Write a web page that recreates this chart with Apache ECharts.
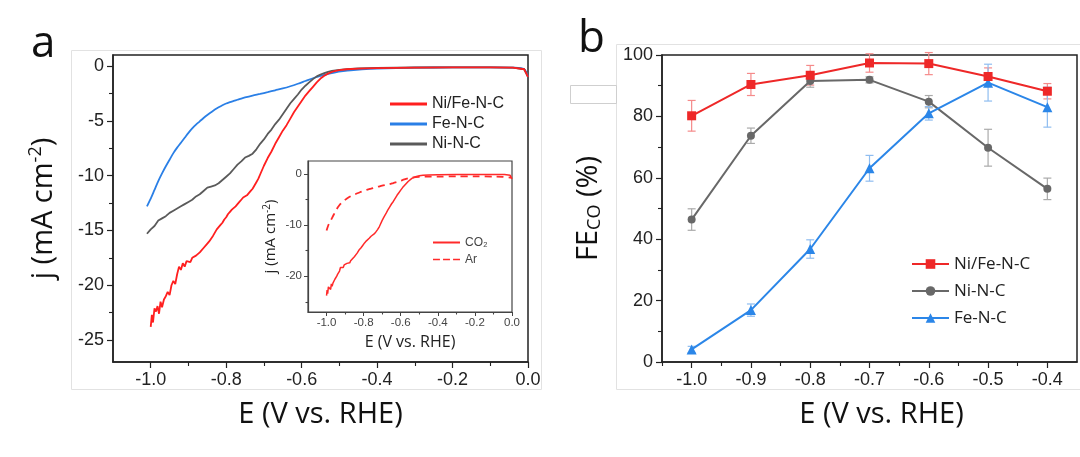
<!DOCTYPE html>
<html><head><meta charset="utf-8">
<script src="https://cdn.jsdelivr.net/npm/echarts@6/dist/echarts.min.js"></script>
<style>html,body{margin:0;padding:0;background:#fff}#c{width:1080px;height:457px}</style>
</head><body><div id="c"></div>
<script>
// ---------- Panel a: LSV curves [E (V vs RHE), j (mA cm-2)] ----------
const lsvNiFe = [
[-1.000,-23.8],[-0.997,-22.7],[-0.994,-23.4],[-0.990,-22.1],[-0.986,-22.4],[-0.982,-21.9],[-0.978,-22.6],
[-0.974,-21.5],[-0.970,-22.0],[-0.965,-21.3],[-0.960,-21.0],[-0.955,-20.6],[-0.950,-20.9],[-0.945,-20.0],
[-0.940,-19.6],[-0.935,-19.9],[-0.930,-19.0],[-0.925,-18.3],[-0.920,-18.6],[-0.915,-18.0],[-0.910,-18.3],
[-0.905,-17.8],[-0.900,-17.7],[-0.895,-17.9],[-0.890,-17.5],[-0.885,-17.6],[-0.880,-17.3],[-0.875,-17.4],
[-0.870,-17.0],[-0.865,-16.9],[-0.860,-16.6],[-0.855,-16.7],[-0.850,-16.2],[-0.845,-16.0],[-0.840,-15.9],
[-0.835,-15.5],[-0.830,-15.2],[-0.825,-14.9],[-0.820,-14.7],[-0.815,-14.5],[-0.810,-14.3],[-0.805,-14.0],
[-0.800,-13.8],[-0.795,-13.5],[-0.790,-13.3],[-0.785,-13.1],[-0.780,-13.0],[-0.775,-12.8],[-0.770,-12.6],
[-0.765,-12.4],[-0.760,-12.2],[-0.755,-12.0],[-0.750,-11.9],[-0.745,-11.8],[-0.740,-11.6],[-0.735,-11.4],
[-0.730,-11.2],[-0.725,-10.9],[-0.720,-10.6],[-0.715,-10.3],[-0.710,-9.9],[-0.700,-9.1],[-0.690,-8.4],
[-0.680,-7.8],[-0.670,-7.1],[-0.660,-6.5],[-0.650,-5.9],[-0.640,-5.4],[-0.630,-4.8],[-0.620,-4.2],
[-0.610,-3.7],[-0.600,-3.2],[-0.590,-2.7],[-0.580,-2.3],[-0.570,-1.9],[-0.560,-1.5],[-0.550,-1.15],
[-0.540,-0.9],[-0.530,-0.7],[-0.520,-0.55],[-0.510,-0.45],[-0.500,-0.38],[-0.480,-0.3],[-0.450,-0.25],
[-0.400,-0.2],[-0.300,-0.15],[-0.200,-0.12],[-0.100,-0.12],[-0.040,-0.15],[-0.010,-0.3],[0.000,-1.0]];
const lsvNi = [
[-1.010,-15.3],[-1.000,-14.9],[-0.990,-14.6],[-0.980,-14.1],[-0.970,-13.9],[-0.960,-13.7],[-0.950,-13.4],
[-0.940,-13.2],[-0.930,-13.0],[-0.920,-12.8],[-0.910,-12.6],[-0.900,-12.4],[-0.890,-12.2],[-0.880,-11.9],
[-0.870,-11.7],[-0.860,-11.4],[-0.850,-11.1],[-0.840,-11.0],[-0.830,-10.9],[-0.820,-10.7],[-0.810,-10.4],
[-0.800,-10.1],[-0.790,-9.8],[-0.780,-9.4],[-0.770,-9.0],[-0.760,-8.7],[-0.750,-8.35],[-0.740,-8.2],
[-0.730,-8.0],[-0.720,-7.6],[-0.710,-7.1],[-0.700,-6.7],[-0.690,-6.2],[-0.680,-5.8],[-0.670,-5.3],
[-0.660,-4.9],[-0.650,-4.4],[-0.640,-3.9],[-0.630,-3.4],[-0.620,-3.0],[-0.610,-2.6],[-0.600,-2.15],
[-0.590,-1.8],[-0.580,-1.5],[-0.570,-1.2],[-0.560,-0.95],[-0.550,-0.78],[-0.540,-0.65],[-0.530,-0.53],
[-0.520,-0.45],[-0.500,-0.35],[-0.480,-0.28],[-0.450,-0.22],[-0.400,-0.18],[-0.300,-0.14],[-0.200,-0.12],
[-0.100,-0.12],[-0.040,-0.15],[-0.010,-0.3],[0.000,-1.0]];
const lsvFe = [
[-1.010,-12.8],[-1.000,-12.1],[-0.990,-11.3],[-0.980,-10.5],[-0.970,-9.8],[-0.960,-9.15],[-0.950,-8.55],
[-0.940,-7.95],[-0.930,-7.45],[-0.920,-7.0],[-0.910,-6.55],[-0.900,-6.1],[-0.890,-5.7],[-0.880,-5.35],
[-0.870,-5.05],[-0.860,-4.75],[-0.850,-4.47],[-0.840,-4.22],[-0.830,-3.98],[-0.820,-3.77],[-0.810,-3.58],
[-0.800,-3.42],[-0.790,-3.3],[-0.780,-3.19],[-0.770,-3.08],[-0.760,-2.97],[-0.750,-2.87],[-0.730,-2.7],
[-0.710,-2.55],[-0.690,-2.39],[-0.670,-2.22],[-0.650,-2.05],[-0.630,-1.85],[-0.610,-1.62],[-0.590,-1.37],
[-0.570,-1.12],[-0.550,-0.9],[-0.530,-0.72],[-0.510,-0.58],[-0.490,-0.48],[-0.470,-0.4],[-0.440,-0.32],
[-0.400,-0.25],[-0.300,-0.16],[-0.200,-0.13],[-0.100,-0.12],[-0.040,-0.15],[-0.010,-0.3],[0.000,-1.0]];
// inset: Ni/Fe-N-C in CO2 (same sweep as lsvNiFe) and in Ar
const lsvAr = [
[-1.000,-11.1],[-0.990,-10.0],[-0.980,-9.3],[-0.970,-8.6],[-0.960,-7.9],[-0.950,-7.2],[-0.940,-6.6],
[-0.930,-6.1],[-0.920,-5.7],[-0.900,-5.1],[-0.880,-4.6],[-0.860,-4.2],[-0.840,-3.9],[-0.820,-3.6],
[-0.800,-3.35],[-0.780,-3.1],[-0.760,-2.9],[-0.740,-2.7],[-0.720,-2.5],[-0.700,-2.3],[-0.680,-2.15],
[-0.660,-2.0],[-0.640,-1.8],[-0.620,-1.6],[-0.600,-1.35],[-0.580,-1.1],[-0.560,-0.9],[-0.540,-0.75],
[-0.520,-0.65],[-0.500,-0.6],[-0.450,-0.55],[-0.400,-0.55],[-0.300,-0.5],[-0.200,-0.5],[-0.100,-0.55],
[-0.050,-0.6],[0.000,-0.8]];

// ---------- Panel b: FE_CO (%) ----------
const potentialsB = [-1.0,-0.9,-0.8,-0.7,-0.6,-0.5,-0.4];
const feNiFe = [80.2,90.4,93.4,97.4,97.2,93.0,88.2];
const errNiFe = [5.0,3.6,3.2,3.0,3.6,2.8,2.5];
const feNi = [46.4,73.7,91.5,91.9,84.8,69.8,56.4];
const errNi = [3.5,2.5,2.0,1.0,2.0,6.0,3.5];
const feFe = [4.1,16.9,36.8,63.1,81.0,91.0,83.0];
const errFe = [1.0,2.0,3.0,4.2,2.2,6.0,6.5];

// ---------- tick labels ----------
const ticksAX = [-1.0,-0.8,-0.6,-0.4,-0.2,0.0];
const minorAX = [-0.9,-0.7,-0.5,-0.3,-0.1];
const ticksAY = [0,-5,-10,-15,-20,-25];
const minorAY = [-2.5,-7.5,-12.5,-17.5,-22.5];
const ticksIY = [0,-10,-20];
const minorIY = [-5,-15,-25];
const ticksBX = [-1.0,-0.9,-0.8,-0.7,-0.6,-0.5,-0.4];
const minorBX = [-1.05,-0.95,-0.85,-0.75,-0.65,-0.55,-0.45];
const ticksBY = [0,20,40,60,80,100];
const minorBY = [10,30,50,70,90];

const chart = echarts.init(document.getElementById('c'), null, {renderer:'canvas'});
const AX = '#222', TF = 'Liberation Sans', OF = 'Open Sans';

function pairs(xs, ys){ return xs.map((x,i)=>[x, ys[i]]); }
function errData(xs, ys, es){ return xs.map((x,i)=>[x, ys[i]-es[i], ys[i]+es[i]]); }
function errRender(color){
  return function(params, api){
    const x = api.value(0);
    const p1 = api.coord([x, api.value(2)]), p2 = api.coord([x, api.value(1)]);
    const w = 4, st = {stroke: color, lineWidth: 1.2};
    return {type:'group', children:[
      {type:'line', shape:{x1:p1[0],y1:p1[1],x2:p2[0],y2:p2[1]}, style:st},
      {type:'line', shape:{x1:p1[0]-w,y1:p1[1],x2:p1[0]+w,y2:p1[1]}, style:st},
      {type:'line', shape:{x1:p2[0]-w,y1:p2[1],x2:p2[0]+w,y2:p2[1]}, style:st}
    ]};
  };
}
function majorAxis(o){
  return Object.assign({
    type:'value', splitLine:{show:false}, position:o.pos,
    axisLine:{show:true, onZero:false, lineStyle:{color:AX, width:1.5}},
    axisTick:{show:true, inside:false, length:6, lineStyle:{color:AX, width:1.2}, customValues:o.ticks},
    axisLabel:{show:true, customValues:o.ticks, color:'#222', fontFamily:TF, fontSize:18, margin:9, formatter:o.fmt}
  }, o.extra);
}
function minorAxis(o){
  return Object.assign({
    type:'value', splitLine:{show:false}, position:o.pos,
    axisLine:{show:false, onZero:false},
    axisTick:{show:true, inside:false, length:o.len||4, lineStyle:{color:o.color||AX, width:1.1}, customValues:o.ticks},
    axisLabel:{show:false}
  }, o.extra);
}
const f1 = v => v.toFixed(1), f0 = v => String(v);

// legend icons
const dashIcon = 'path://M0,0H9V2H0Z M13,0H22V2H13Z M26,0H35V2H26Z';

const option = {
  animation:false,
  backgroundColor:'#fff',
  grid:[
    {left:113, top:55, width:415, height:307, show:true, borderColor:AX, borderWidth:1.5, backgroundColor:'#fff'},
    {left:308, top:161, width:204, height:151, show:true, borderColor:'#444', borderWidth:1.2, backgroundColor:'#fff'},
    {left:662, top:55, width:415, height:307, show:true, borderColor:AX, borderWidth:1.5, backgroundColor:'#fff'}
  ],
  xAxis:[
    majorAxis({pos:'bottom', ticks:ticksAX, fmt:f1, extra:{gridIndex:0, min:-1.1, max:0,
      name:'E (V vs. RHE)', nameLocation:'middle', nameGap:38,
      nameTextStyle:{fontFamily:OF, fontSize:29, color:'#111'}}}),
    minorAxis({pos:'bottom', ticks:minorAX, extra:{gridIndex:0, min:-1.1, max:0}}),
    majorAxis({pos:'bottom', ticks:ticksAX, fmt:f1, extra:{gridIndex:1, min:-1.1, max:0,
      name:'E (V vs. RHE)', nameLocation:'middle', nameGap:22,
      nameTextStyle:{fontFamily:OF, fontSize:16, color:'#222'},
      axisLine:{show:true, onZero:false, lineStyle:{color:'#444', width:1.2}},
      axisTick:{show:true, length:4, lineStyle:{color:'#444', width:1}, customValues:ticksAX},
      axisLabel:{show:true, customValues:ticksAX, color:'#444', fontFamily:TF, fontSize:11.5, margin:5, formatter:f1}}}),
    minorAxis({pos:'bottom', ticks:minorAX, len:2.5, color:'#444', extra:{gridIndex:1, min:-1.1, max:0}}),
    majorAxis({pos:'bottom', ticks:ticksBX, fmt:f1, extra:{gridIndex:2, min:-1.05, max:-0.35,
      name:'E (V vs. RHE)', nameLocation:'middle', nameGap:38,
      nameTextStyle:{fontFamily:OF, fontSize:29, color:'#111', padding:[0,0,0,24]}}}),
    minorAxis({pos:'bottom', ticks:minorBX, extra:{gridIndex:2, min:-1.05, max:-0.35}})
  ],
  yAxis:[
    majorAxis({pos:'left', ticks:ticksAY, fmt:f0, extra:{gridIndex:0, min:-27, max:1,
      name:'{t|j (mA cm}{s|-2}{t|)}', nameLocation:'middle', nameRotate:90, nameGap:52,
      nameTextStyle:{rich:{t:{fontFamily:OF, fontSize:29, color:'#111', lineHeight:34},
                          s:{fontFamily:OF, fontSize:18, color:'#111', lineHeight:34, verticalAlign:'top', padding:[0,0,14,0]}}}}}),
    minorAxis({pos:'left', ticks:minorAY, extra:{gridIndex:0, min:-27, max:1}}),
    majorAxis({pos:'left', ticks:ticksIY, fmt:f0, extra:{gridIndex:1, min:-27, max:2.5,
      name:'{t|j (mA cm}{s|-2}{t|)}', nameLocation:'middle', nameRotate:90, nameGap:28,
      nameTextStyle:{rich:{t:{fontFamily:OF, fontSize:15, color:'#222', lineHeight:18},
                          s:{fontFamily:OF, fontSize:10, color:'#222', lineHeight:18, padding:[0,0,7,0]}}},
      axisLine:{show:true, onZero:false, lineStyle:{color:'#444', width:1.2}},
      axisTick:{show:true, length:4, lineStyle:{color:'#444', width:1}, customValues:ticksIY},
      axisLabel:{show:true, customValues:ticksIY, color:'#444', fontFamily:TF, fontSize:11.5, margin:6, formatter:f0}}}),
    minorAxis({pos:'left', ticks:minorIY, len:2.5, color:'#444', extra:{gridIndex:1, min:-27, max:2.5}}),
    majorAxis({pos:'left', ticks:ticksBY, fmt:f0, extra:{gridIndex:2, min:0, max:100,
      name:'{t|FE}{s|CO}{t| (%)}', nameLocation:'middle', nameRotate:90, nameGap:56,
      nameTextStyle:{rich:{t:{fontFamily:OF, fontSize:29, color:'#111', lineHeight:34},
                          s:{fontFamily:OF, fontSize:18, color:'#111', lineHeight:34, padding:[12,0,0,0]}}}}}),
    minorAxis({pos:'left', ticks:minorBY, extra:{gridIndex:2, min:0, max:100}})
  ],
  legend:[
    {orient:'vertical', left:385, top:91, itemWidth:37, itemHeight:3, itemGap:4, icon:'rect',
     textStyle:{fontFamily:TF, fontSize:16, color:'#222', lineHeight:16},
     data:['Ni/Fe-N-C','Fe-N-C','Ni-N-C']},
    {orient:'vertical', left:428, top:231, itemWidth:27, itemHeight:2, itemGap:4,
     textStyle:{fontFamily:TF, fontSize:12, color:'#444', lineHeight:13},
     data:[{name:'CO₂', icon:'rect'}, {name:'Ar', icon:dashIcon}]},
    {orient:'vertical', left:906, top:250, itemWidth:37, itemHeight:12, itemGap:9,
     formatter: n => n.replace(/^b:/,''),
     textStyle:{fontFamily:OF, fontSize:17, color:'#222', lineHeight:18},
     data:['b:Ni/Fe-N-C','b:Ni-N-C','b:Fe-N-C']}
  ],
  series:[
    {name:'Ni/Fe-N-C', type:'line', xAxisIndex:0, yAxisIndex:0, data:lsvNiFe, symbol:'none', z:4,
     lineStyle:{color:'#ff1f1f', width:1.8}, itemStyle:{color:'#ff1f1f'}},
    {name:'Fe-N-C', type:'line', xAxisIndex:0, yAxisIndex:0, data:lsvFe, symbol:'none', z:3, smooth:0.3,
     lineStyle:{color:'#2a7fe6', width:1.8}, itemStyle:{color:'#2a7fe6'}},
    {name:'Ni-N-C', type:'line', xAxisIndex:0, yAxisIndex:0, data:lsvNi, symbol:'none', z:3,
     lineStyle:{color:'#5a5a5a', width:1.8}, itemStyle:{color:'#5a5a5a'}},
    {name:'CO₂', type:'line', xAxisIndex:2, yAxisIndex:2, data:lsvNiFe, symbol:'none', z:6,
     lineStyle:{color:'#ff2a2a', width:1.5}, itemStyle:{color:'#ff2a2a'}},
    {name:'Ar', type:'line', xAxisIndex:2, yAxisIndex:2, data:lsvAr, symbol:'none', z:6, smooth:0.3,
     lineStyle:{color:'#ff2a2a', width:1.8, type:[7,5]}, itemStyle:{color:'#ff2a2a'}},
    {type:'custom', xAxisIndex:4, yAxisIndex:4, renderItem:errRender('#f58a8a'), data:errData(potentialsB, feNiFe, errNiFe), encode:{x:0, y:[1,2]}, z:2},
    {type:'custom', xAxisIndex:4, yAxisIndex:4, renderItem:errRender('#aaaaaa'), data:errData(potentialsB, feNi, errNi), encode:{x:0, y:[1,2]}, z:2},
    {type:'custom', xAxisIndex:4, yAxisIndex:4, renderItem:errRender('#8fbdf0'), data:errData(potentialsB, feFe, errFe), encode:{x:0, y:[1,2]}, z:2},
    {name:'b:Ni/Fe-N-C', type:'line', xAxisIndex:4, yAxisIndex:4, data:pairs(potentialsB, feNiFe), z:5,
     symbol:'rect', symbolSize:9, lineStyle:{color:'#ee2828', width:2}, itemStyle:{color:'#ee2828'}},
    {name:'b:Ni-N-C', type:'line', xAxisIndex:4, yAxisIndex:4, data:pairs(potentialsB, feNi), z:4,
     symbol:'circle', symbolSize:8, lineStyle:{color:'#686868', width:2}, itemStyle:{color:'#686868'}},
    {name:'b:Fe-N-C', type:'line', xAxisIndex:4, yAxisIndex:4, data:pairs(potentialsB, feFe), z:4,
     symbol:'triangle', symbolSize:10, lineStyle:{color:'#2b86e8', width:2}, itemStyle:{color:'#2b86e8'}}
  ],
  graphic:[
    {type:'rect', shape:{x:71.5, y:50.5, width:470, height:339}, style:{fill:'none', stroke:'#e2e2e2', lineWidth:1}, z:-10, silent:true},
    {type:'rect', shape:{x:616.5, y:44.5, width:470, height:345}, style:{fill:'none', stroke:'#e2e2e2', lineWidth:1}, z:-10, silent:true},
    {type:'rect', shape:{x:570.5, y:85.5, width:46, height:18}, style:{fill:'none', stroke:'#cfcfcf', lineWidth:1}, z:-10, silent:true},
    {type:'text', left:31, top:22, style:{text:'a', font:'44px "Open Sans"', fill:'#111'}},
    {type:'text', left:578, top:17, style:{text:'b', font:'44px "Open Sans"', fill:'#111'}}
  ]
};
chart.setOption(option);
</script></body></html>
